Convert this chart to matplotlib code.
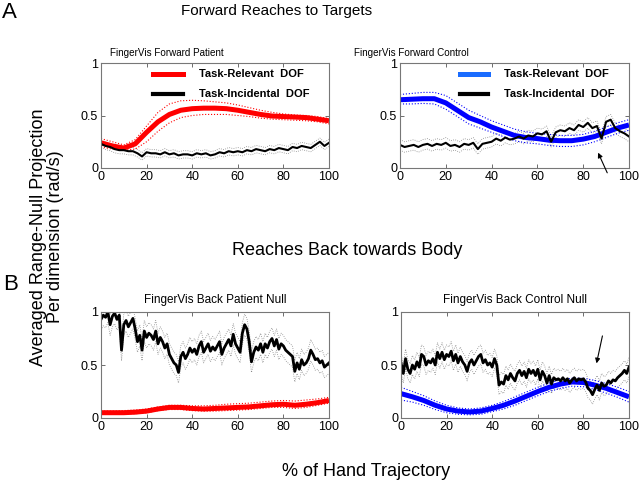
import numpy as np
import matplotlib.pyplot as plt

plt.rcParams['font.family'] = ['Liberation Sans', 'DejaVu Sans']

# x grids (% of hand trajectory)
x_smooth = np.arange(0, 101, 5)
x_coarse = np.arange(0, 101, 2)
x_fine = np.arange(0, 101, 1)

# --- Forward, patient (top left)
fwd_pat_rel = [0.24, 0.21, 0.19, 0.23, 0.34, 0.44, 0.51, 0.55, 0.565, 0.57, 0.57,
               0.565, 0.55, 0.53, 0.51, 0.495, 0.49, 0.485, 0.48, 0.465, 0.45]
fwd_pat_rel_hi = [0.28, 0.25, 0.22, 0.27, 0.40, 0.53, 0.61, 0.64, 0.645, 0.64, 0.63,
                  0.62, 0.60, 0.575, 0.55, 0.53, 0.515, 0.505, 0.50, 0.49, 0.47]
fwd_pat_rel_lo = [0.20, 0.18, 0.17, 0.18, 0.25, 0.35, 0.43, 0.48, 0.50, 0.51, 0.51,
                  0.51, 0.50, 0.49, 0.475, 0.465, 0.46, 0.455, 0.45, 0.44, 0.42]
fwd_pat_inc = [0.23, 0.21, 0.20, 0.18, 0.17, 0.17, 0.16, 0.16, 0.14, 0.11, 0.15,
               0.14, 0.14, 0.13, 0.15, 0.13, 0.14, 0.12, 0.13, 0.13, 0.12, 0.14,
               0.13, 0.14, 0.12, 0.13, 0.15, 0.14, 0.16, 0.15, 0.16, 0.15, 0.17,
               0.16, 0.18, 0.17, 0.16, 0.18, 0.17, 0.19, 0.18, 0.17, 0.20, 0.19,
               0.21, 0.20, 0.19, 0.22, 0.25, 0.21, 0.24]

# --- Forward, control (top right)
fwd_con_rel = [0.65, 0.655, 0.66, 0.66, 0.62, 0.55, 0.48, 0.44, 0.39, 0.35, 0.31,
               0.29, 0.28, 0.265, 0.26, 0.26, 0.275, 0.30, 0.34, 0.38, 0.41]
fwd_con_rel_hi = [0.70, 0.71, 0.72, 0.72, 0.69, 0.62, 0.55, 0.50, 0.45, 0.41, 0.37,
                  0.345, 0.33, 0.32, 0.31, 0.31, 0.32, 0.35, 0.39, 0.43, 0.46]
fwd_con_rel_lo = [0.61, 0.61, 0.615, 0.61, 0.56, 0.49, 0.42, 0.38, 0.34, 0.30, 0.26,
                  0.24, 0.23, 0.215, 0.205, 0.205, 0.22, 0.25, 0.29, 0.33, 0.36]
fwd_con_inc = [0.22, 0.20, 0.21, 0.22, 0.20, 0.22, 0.23, 0.21, 0.23, 0.22, 0.24,
               0.21, 0.22, 0.20, 0.23, 0.22, 0.24, 0.18, 0.23, 0.24, 0.25, 0.28,
               0.26, 0.29, 0.27, 0.28, 0.30, 0.28, 0.31, 0.30, 0.33, 0.32, 0.35,
               0.25, 0.34, 0.36, 0.35, 0.38, 0.36, 0.41, 0.39, 0.43, 0.38, 0.40,
               0.28, 0.44, 0.46, 0.38, 0.35, 0.33, 0.30]

# --- Back, patient (bottom left)
back_pat_rel = [0.05, 0.05, 0.05, 0.055, 0.065, 0.085, 0.10, 0.10, 0.09, 0.085, 0.09,
                0.095, 0.10, 0.105, 0.115, 0.125, 0.13, 0.12, 0.13, 0.145, 0.165]
back_pat_rel_hi = [0.065, 0.065, 0.07, 0.075, 0.085, 0.105, 0.12, 0.12, 0.115, 0.115, 0.12,
                   0.13, 0.135, 0.14, 0.15, 0.16, 0.165, 0.16, 0.17, 0.18, 0.195]
back_pat_rel_lo = [0.04, 0.04, 0.04, 0.04, 0.05, 0.07, 0.08, 0.08, 0.07, 0.065, 0.065,
                   0.07, 0.075, 0.08, 0.09, 0.10, 0.10, 0.09, 0.10, 0.12, 0.14]
back_pat_inc = [0.93, 0.97, 0.95, 1.00, 0.88, 0.96, 0.99, 0.93, 0.97, 0.64, 0.88,
                0.92, 0.86, 0.90, 0.94, 0.84, 0.72, 0.78, 0.64, 0.82, 0.76,
                0.80, 0.78, 0.74, 0.82, 0.70, 0.76, 0.72, 0.66, 0.70, 0.60,
                0.56, 0.52, 0.50, 0.43, 0.58, 0.62, 0.56, 0.60, 0.66, 0.62,
                0.65, 0.60, 0.68, 0.72, 0.62, 0.66, 0.70, 0.63, 0.67, 0.64,
                0.68, 0.72, 0.60, 0.66, 0.70, 0.74, 0.68, 0.79, 0.70, 0.66,
                0.62, 0.80, 0.88, 0.84, 0.72, 0.53, 0.62, 0.67, 0.64, 0.70,
                0.62, 0.70, 0.66, 0.72, 0.75, 0.68, 0.74, 0.65, 0.70, 0.68,
                0.64, 0.62, 0.60, 0.58, 0.44, 0.52, 0.46, 0.55, 0.50, 0.52,
                0.56, 0.64, 0.60, 0.55, 0.56, 0.52, 0.54, 0.48, 0.50, 0.52]

# --- Back, control (bottom right)
back_con_rel = [0.23, 0.20, 0.165, 0.12, 0.085, 0.065, 0.057, 0.065, 0.09, 0.12, 0.16,
                0.205, 0.25, 0.29, 0.32, 0.34, 0.335, 0.31, 0.28, 0.24, 0.20]
back_con_rel_hi = [0.29, 0.25, 0.21, 0.16, 0.12, 0.095, 0.085, 0.095, 0.12, 0.155, 0.20,
                   0.245, 0.29, 0.33, 0.36, 0.375, 0.375, 0.355, 0.325, 0.29, 0.25]
back_con_rel_lo = [0.17, 0.15, 0.12, 0.08, 0.05, 0.035, 0.03, 0.035, 0.06, 0.085, 0.12,
                   0.165, 0.21, 0.25, 0.28, 0.30, 0.295, 0.27, 0.235, 0.195, 0.15]
back_con_inc = [0.52, 0.42, 0.56, 0.46, 0.42, 0.50, 0.46, 0.53, 0.48, 0.60, 0.58,
                0.50, 0.54, 0.52, 0.56, 0.50, 0.62, 0.56, 0.62, 0.55, 0.60,
                0.58, 0.63, 0.54, 0.60, 0.52, 0.58, 0.53, 0.50, 0.44, 0.52,
                0.55, 0.50, 0.54, 0.58, 0.60, 0.52, 0.55, 0.50, 0.52, 0.48,
                0.56, 0.50, 0.31, 0.34, 0.32, 0.40, 0.36, 0.42, 0.38, 0.35,
                0.42, 0.45, 0.40, 0.44, 0.38, 0.46, 0.42, 0.45, 0.40, 0.46,
                0.36, 0.44, 0.40, 0.33, 0.40, 0.32, 0.38, 0.36, 0.37, 0.35,
                0.38, 0.35, 0.37, 0.33, 0.36, 0.38, 0.35, 0.37, 0.36, 0.37,
                0.34, 0.28, 0.26, 0.22, 0.27, 0.31, 0.26, 0.33, 0.30, 0.31,
                0.35, 0.33, 0.36, 0.35, 0.38, 0.40, 0.42, 0.45, 0.42, 0.48]

# half-width of the grey error band around the incidental traces
inc_spread = {'fwd_pat': 0.035, 'fwd_con': 0.05, 'back_pat': 0.10, 'back_con': 0.09}

RED = '#ff0000'
BLUE = '#0000ff'

fig = plt.figure(figsize=(6.4, 4.8), dpi=100)
W, H = 640, 480


def px_axes(l, t, r, b):
    return fig.add_axes([l / W, 1 - b / H, (r - l) / W, (b - t) / H])


ax_tl = px_axes(101, 63, 329, 168)
ax_tr = px_axes(400, 63, 629, 168)
ax_bl = px_axes(101, 312, 329, 418)
ax_br = px_axes(401, 312, 629, 418)

panels = [
    (ax_tl, fwd_pat_rel, fwd_pat_rel_hi, fwd_pat_rel_lo, x_coarse, fwd_pat_inc, RED, 'fwd_pat', 1.5),
    (ax_tr, fwd_con_rel, fwd_con_rel_hi, fwd_con_rel_lo, x_coarse, fwd_con_inc, BLUE, 'fwd_con', 1.5),
    (ax_bl, back_pat_rel, back_pat_rel_hi, back_pat_rel_lo, x_fine, back_pat_inc, RED, 'back_pat', 2.0),
    (ax_br, back_con_rel, back_con_rel_hi, back_con_rel_lo, x_fine, back_con_inc, BLUE, 'back_con', 2.0),
]

for ax, rel, hi, lo, xi, inc, col, key, lw_inc in panels:
    inc = np.array(inc)
    s = inc_spread[key]
    ax.plot(xi, inc + s, ls=':', lw=0.6, color='#8a8a8a')
    ax.plot(xi, inc - s, ls=':', lw=0.6, color='#8a8a8a')
    ax.plot(x_smooth, hi, ls=':', lw=0.8, color=col)
    ax.plot(x_smooth, lo, ls=':', lw=0.8, color=col)
    ax.plot(x_smooth, rel, color=col, lw=3.6, solid_capstyle='butt')
    ax.plot(xi, inc, color='black', lw=lw_inc)
    ax.set_xlim(0, 100)
    ax.set_ylim(0, 1)
    ax.set_xticks([0, 20, 40, 60, 80, 100])
    ax.set_yticks([0, 0.5, 1])
    ax.set_yticklabels(['0', '0.5', '1'])
    ax.tick_params(direction='in', top=True, right=True, labelsize=9,
                   length=3, width=0.6, color='#555555', pad=2)
    for sp in ax.spines.values():
        sp.set_color('#777777')
        sp.set_linewidth(0.8)

# subplot titles
ax_tl.text(0.29, 1.067, 'FingerVis Forward Patient', transform=ax_tl.transAxes,
           ha='center', va='baseline', fontsize=7.1)
ax_tr.text(0.052, 1.067, 'FingerVis Forward Control', transform=ax_tr.transAxes,
           ha='center', va='baseline', fontsize=7.1)
ax_bl.text(0.5, 1.085, 'FingerVis Back Patient Null', transform=ax_bl.transAxes,
           ha='center', va='baseline', fontsize=8.5)
ax_br.text(0.5, 1.085, 'FingerVis Back Control Null', transform=ax_br.transAxes,
           ha='center', va='baseline', fontsize=8.5)

# legends in the top panels
for ax, col, hx0, hx1, tx in [(ax_tl, RED, 0.23, 0.36, 0.43),
                              (ax_tr, '#1a6cff', 0.26, 0.385, 0.455)]:
    ax.plot([hx0, hx1], [0.895, 0.895], color=col, lw=3.6, transform=ax.transAxes)
    ax.plot([hx0, hx1], [0.705, 0.705], color='black', lw=3.0, transform=ax.transAxes)
    ax.text(tx, 0.895, 'Task-Relevant  DOF', transform=ax.transAxes, va='center',
            fontsize=8, fontweight='bold')
    ax.text(tx, 0.705, 'Task-Incidental  DOF', transform=ax.transAxes, va='center',
            fontsize=8, fontweight='bold')

# arrows
arrow = dict(arrowstyle='-|>', color='black', lw=0.8, mutation_scale=7)
ax_tr.annotate('', xy=(86, 0.17), xytext=(91, -0.07), arrowprops=arrow,
               annotation_clip=False)
ax_br.annotate('', xy=(85.5, 0.49), xytext=(88.6, 0.80), arrowprops=arrow,
               annotation_clip=False)

# figure-level labels
fig.text(2 / W, 1 - 18 / H, 'A', fontsize=16, ha='left', va='baseline')
fig.text(3 / W, 1 - 290 / H, 'B', fontsize=16, ha='left', va='baseline')
fig.text(277 / W, 1 - 15 / H, 'Forward Reaches to Targets', fontsize=11,
         ha='center', va='baseline')
fig.text(347 / W, 1 - 255 / H, 'Reaches Back towards Body', fontsize=13,
         ha='center', va='baseline')
fig.text(47 / W, 1 - 237 / H, 'Averaged Range-Null Projection\nPer dimension (rad/s)',
         fontsize=13, rotation=90, ha='center', va='center', multialignment='center',
         linespacing=1.05)
fig.text(366 / W, 1 - 476 / H, '% of Hand Trajectory', fontsize=13,
         ha='center', va='baseline')

fig.savefig('out.png', dpi=100)
